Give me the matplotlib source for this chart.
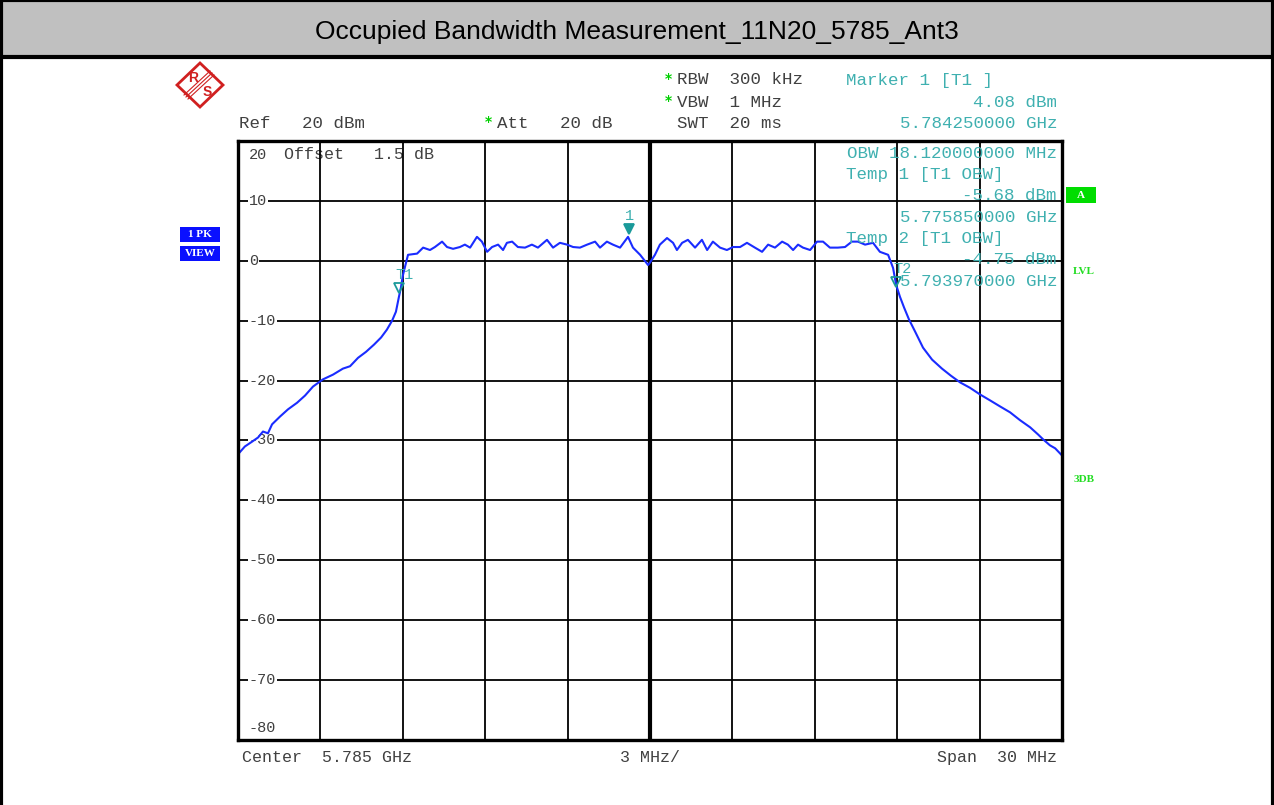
import matplotlib
matplotlib.use('Agg')
import matplotlib.pyplot as plt
from matplotlib.patches import Rectangle, Polygon
import matplotlib.transforms as mtransforms

# trace: frequency offset from centre (MHz) and level (dBm)
freq_mhz = [-15.00, -14.75, -14.49, -14.27, -14.09, -13.91, -13.76, -13.47, -13.18, -12.85,
            -12.56, -12.27, -11.91, -11.54, -11.18, -10.92, -10.63, -10.34, -10.05, -9.79,
            -9.58, -9.39, -9.25, -9.14, -9.07, -9.00, -8.92, -8.81, -8.48, -8.26,
            -8.01, -7.83, -7.57, -7.39, -7.17, -6.92, -6.74, -6.55, -6.30, -6.12,
            -5.93, -5.75, -5.53, -5.35, -5.21, -5.02, -4.81, -4.55, -4.30, -4.08,
            -3.75, -3.53, -3.28, -3.02, -2.80, -2.55, -2.29, -2.00, -1.82, -1.57,
            -1.35, -1.09, -0.80, -0.62, -0.36, -0.07, 0.00, 0.18, 0.36, 0.62,
            0.84, 0.98, 1.17, 1.38, 1.64, 1.89, 2.08, 2.29, 2.55, 2.80,
            3.02, 3.28, 3.53, 3.82, 4.08, 4.30, 4.55, 4.81, 5.02, 5.21,
            5.39, 5.57, 5.83, 6.08, 6.30, 6.55, 6.84, 7.10, 7.35, 7.57,
            7.83, 8.12, 8.37, 8.67, 8.85, 8.96, 9.10, 9.25, 9.43, 9.65,
            9.94, 10.27, 10.63, 10.96, 11.29, 11.65, 12.01, 12.38, 12.74, 13.11,
            13.47, 13.84, 14.13, 14.31, 14.56, 14.75, 15.00]
level_dbm = [-32.3, -31.0, -30.2, -29.5, -28.5, -28.8, -27.3, -26.0, -24.8, -23.7,
             -22.5, -21.0, -19.8, -19.0, -18.0, -17.6, -16.2, -15.2, -14.0, -12.8,
             -11.5, -10.0, -8.5, -6.0, -4.5, -2.5, -1.0, 1.0, 1.2, 2.2,
             1.8, 2.3, 3.2, 2.3, 2.0, 2.3, 2.7, 2.2, 4.0, 3.2,
             1.5, 2.3, 2.7, 1.8, 3.0, 3.2, 2.3, 2.2, 2.7, 2.2,
             3.5, 2.2, 3.0, 2.7, 2.3, 2.2, 2.7, 3.2, 2.2, 3.2,
             2.7, 2.2, 4.0, 2.2, 1.0, -0.7, -0.3, 1.0, 2.7, 3.8,
             3.0, 1.8, 3.0, 3.5, 2.2, 3.5, 1.8, 3.2, 2.2, 1.8,
             2.3, 2.3, 3.0, 2.2, 1.5, 2.7, 2.2, 3.2, 2.7, 1.8,
             2.7, 2.2, 1.8, 3.2, 3.2, 2.2, 2.2, 2.3, 3.2, 3.2,
             2.7, 3.0, 1.5, 1.0, -1.2, -4.0, -6.0, -7.8, -9.8, -11.8,
             -14.5, -16.5, -18.0, -19.2, -20.3, -21.2, -22.3, -23.3, -24.3, -25.3,
             -26.6, -27.8, -29.0, -29.8, -30.8, -31.3, -32.5]

center_ghz = 5.785
marker_names = ['T1', '1', 'T2']
marker_ghz = [5.775850, 5.784250, 5.793970]
marker_dbm = [-5.68, 4.08, -4.75]
marker_filled = [False, True, False]

y_labels = ['20', '10', '0', '-10', '-20', '-30', '-40', '-50', '-60', '-70', '-80']
y_values = [20, 10, 0, -10, -20, -30, -40, -50, -60, -70, -80]

W, H = 1274, 805
fig = plt.figure(figsize=(W / 100, H / 100), dpi=100)

def fx(x):
    return x / W

def fy(y):
    return 1 - y / H

grey = '#404040'
teal = '#3fb0b0'
green = '#00d000'
mono = 'Liberation Mono'

# title bar and outer frame
fig.patches.append(Rectangle((0, fy(57)), 1, 57 / H, transform=fig.transFigure,
                             facecolor='#c0c0c0', edgecolor='black', lw=3))
fig.add_artist(plt.Line2D([fx(1.5), fx(1.5)], [0, 1], color='black', lw=3))
fig.add_artist(plt.Line2D([fx(W - 1.5), fx(W - 1.5)], [0, 1], color='black', lw=3))
fig.text(0.5, fy(32), 'Occupied Bandwidth Measurement_11N20_5785_Ant3',
         ha='center', va='center', fontsize=19, family='Liberation Sans')

ax = fig.add_axes([fx(238), fy(740), 824 / W, 599 / H])
ax.set_xlim(-15, 15)
ax.set_ylim(-80, 20)
ax.set_xticks([])
ax.set_yticks([])
for s in ax.spines.values():
    s.set_linewidth(2.4)
    s.set_zorder(5)

for k in range(1, 10):
    xv = -15 + 3 * k
    ax.axvline(xv, color='black', lw=3 if xv == 0 else 1.3, zorder=2)
for yv in y_values[1:-1]:
    ax.axhline(yv, color='black', lw=1.3, zorder=2)

for lab, yv in zip(y_labels, y_values):
    ypos = yv
    if yv == 20:
        ypos = 17.7
    elif yv == -80:
        ypos = -78
    ax.text(-14.6, ypos, lab, ha='left', va='center', fontsize=11, family=mono, color=grey,
            zorder=2.5, bbox=dict(facecolor='white', edgecolor='none', pad=0.5))

ax.text(-13.33, 17.7, 'Offset   1.5 dB', ha='left', va='center', fontsize=12,
        family=mono, color=grey, zorder=1)

ax.plot(freq_mhz, level_dbm, color='#1a2cff', lw=1.5, zorder=3)

# markers
for name, f, lv, filled in zip(marker_names, marker_ghz, marker_dbm, marker_filled):
    xm = (f - center_ghz) * 1000
    tr = mtransforms.offset_copy(ax.transData, fig=fig, x=0, y=7, units='dots')
    ax.plot(xm, lv, marker='v', ms=7, mew=1.3, color='#1a9a9a',
            mfc='#1a9a9a' if filled else 'none', transform=tr, zorder=4, clip_on=False)
    ax.annotate(name, (xm, lv), xytext=(0 if filled else 6, 20), textcoords='offset pixels',
                ha='center', va='center', fontsize=11, family=mono, color=teal, zorder=4)

# setting texts above the grid
def t(x, y, s, color=grey, ha='left', size=12.6):
    fig.text(fx(x), fy(y), s, ha=ha, va='center', fontsize=size, family=mono, color=color,
             zorder=1)

t(239, 123, 'Ref   20 dBm')
t(497, 123, 'Att   20 dB')
t(677, 80, 'RBW  300 kHz')
t(677, 102, 'VBW  1 MHz')
t(677, 123, 'SWT  20 ms')
for yy in (80, 102):
    fig.text(fx(668), fy(yy - 1), '*', ha='center', va='center', fontsize=10,
             color=green, fontweight='bold')
fig.text(fx(488), fy(122), '*', ha='center', va='center', fontsize=10,
         color=green, fontweight='bold')

t(846, 81, 'Marker 1 [T1 ]', teal)
t(1057, 102, '4.08 dBm', teal, 'right')
t(1057, 123, '5.784250000 GHz', teal, 'right')
t(1057, 153, 'OBW 18.120000000 MHz', teal, 'right')
t(846, 174, 'Temp 1 [T1 OBW]', teal)
t(1057, 195, '-5.68 dBm', teal, 'right')
t(1057, 217, '5.775850000 GHz', teal, 'right')
t(846, 238, 'Temp 2 [T1 OBW]', teal)
t(1057, 259, '-4.75 dBm', teal, 'right')
t(1057, 281, '5.793970000 GHz', teal, 'right')

t(242, 757, 'Center  5.785 GHz', size=12)
t(650, 757, '3 MHz/', ha='center', size=12)
t(1057, 757, 'Span  30 MHz', ha='right', size=12)

# left status boxes
for yy, lab in ((234.5, '1 PK'), (253.5, 'VIEW')):
    fig.patches.append(Rectangle((fx(180), fy(yy + 7.5)), 40 / W, 15 / H,
                                 transform=fig.transFigure, facecolor='#0a10ff', edgecolor='none'))
    fig.text(fx(200), fy(yy), lab, ha='center', va='center', fontsize=8, family='Liberation Serif',
             fontweight='bold', color='white')

# right side indicators
fig.patches.append(Rectangle((fx(1066), fy(203)), 30 / W, 16 / H, transform=fig.transFigure,
                             facecolor='#00dd00', edgecolor='none'))
fig.text(fx(1081), fy(195), 'A', ha='center', va='center', fontsize=8, family='Liberation Serif',
         fontweight='bold', color='white')
fig.text(fx(1084), fy(272), 'LVL', ha='center', va='center', fontsize=8,
         family='Liberation Serif', fontweight='bold', color='#22dd22')
fig.text(fx(1084), fy(479), '3DB', ha='center', va='center', fontsize=8,
         family='Liberation Serif', fontweight='bold', color='#22dd22')

# R&S logo
red = '#d02020'
fig.patches.append(Polygon([(fx(177), fy(85)), (fx(200), fy(63)), (fx(223), fy(85)), (fx(200), fy(107))],
                           closed=True, transform=fig.transFigure, facecolor='none',
                           edgecolor=red, lw=2))
for d in (-2, 0, 2):
    fig.add_artist(plt.Line2D([fx(186 + d), fx(212 + d)], [fy(97 + d), fy(73 + d)], color=red, lw=0.8))
fig.text(fx(193), fy(78), 'R', ha='center', va='center', fontsize=10, color=red,
         family='Liberation Sans', fontweight='bold')
fig.text(fx(207), fy(92), 'S', ha='center', va='center', fontsize=10, color=red,
         family='Liberation Sans', fontweight='bold')

fig.savefig('out.png', dpi=100)
